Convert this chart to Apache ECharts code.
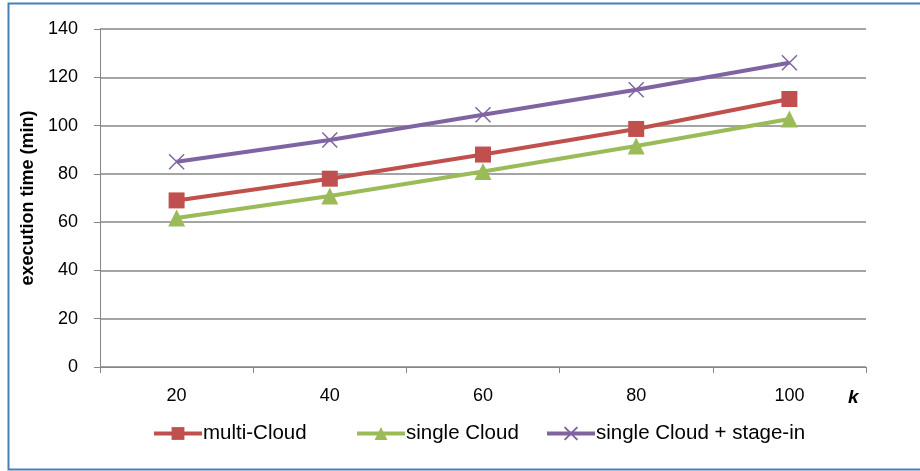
<!DOCTYPE html>
<html><head><meta charset="utf-8">
<script src="https://cdn.jsdelivr.net/npm/echarts@6/dist/echarts.min.js"></script>
<style>html,body{margin:0;padding:0;background:#fff}#c{width:920px;height:471px}</style>
</head><body><div id="c"></div>
<script>
const categories = ['20','40','60','80','100'];
const multiCloud = [69, 78, 88, 98.6, 111];
const singleCloud = [61.7, 70.8, 81, 91.5, 102.7];
const singleStageIn = [85, 94, 104.5, 114.8, 126];
const yTicks = [0,20,40,60,80,100,120,140];

const FONT = "'Liberation Sans',sans-serif";
const chart = echarts.init(document.getElementById('c'));
const lg = (name, left) => ({
  data:[name], left:left, top:423, itemWidth:48, itemHeight:16, padding:0,
  lineStyle:{width:4},
  textStyle:{fontFamily:FONT, fontSize:20.5, color:'#000', padding:[0,0,0,-4]}
});
chart.setOption({
  animation:false,
  backgroundColor:'#fff',
  graphic:[{type:'rect', shape:{x:8.5,y:3.5,width:930,height:466}, style:{fill:'none', stroke:'#4a7ebb', lineWidth:2}, silent:true},
    {type:'text', left:848, top:388, style:{text:'k', font:"italic bold 19px 'Liberation Sans',sans-serif", fill:'#000'}}],
  grid:{left:100, right:54, top:29, bottom:104},
  legend:[lg('multi-Cloud',152), lg('single Cloud',355), lg('single Cloud + stage-in',545)],
  xAxis:{type:'category', data:categories, boundaryGap:true,
    axisLine:{lineStyle:{color:'#868686', width:1}},
    axisTick:{show:true, length:6, lineStyle:{color:'#868686'}},
    axisLabel:{fontFamily:FONT, fontSize:18, color:'#000', margin:20}},
  yAxis:{type:'value', min:0, max:140, interval:20,
    name:'execution time (min)', nameLocation:'middle', nameGap:62, nameRotate:90,
    nameTextStyle:{fontFamily:FONT, fontWeight:'bold', fontSize:18, color:'#000'},
    axisLine:{show:true, lineStyle:{color:'#868686'}},
    axisTick:{show:true, length:6, lineStyle:{color:'#868686'}},
    splitLine:{lineStyle:{color:'#868686', width:1.5}},
    axisLabel:{fontFamily:FONT, fontSize:18, color:'#000', margin:22,
      formatter:v=>yTicks.includes(v)?String(v):''}},
  series:[
    {name:'multi-Cloud', type:'line', data:multiCloud, symbol:'rect', symbolSize:16,
      itemStyle:{color:'#C0504D'}, lineStyle:{color:'#C0504D', width:4}},
    {name:'single Cloud', type:'line', data:singleCloud, symbol:'triangle', symbolSize:17,
      itemStyle:{color:'#9BBB59'}, lineStyle:{color:'#9BBB59', width:4}},
    {name:'single Cloud + stage-in', type:'line', data:singleStageIn,
      symbol:'path://M0,0 L10,10 M10,0 L0,10', symbolSize:15,
      itemStyle:{color:'#8064A2', borderColor:'#8064A2', borderWidth:1.5}, lineStyle:{color:'#8064A2', width:4}}
  ]
});
</script></body></html>
